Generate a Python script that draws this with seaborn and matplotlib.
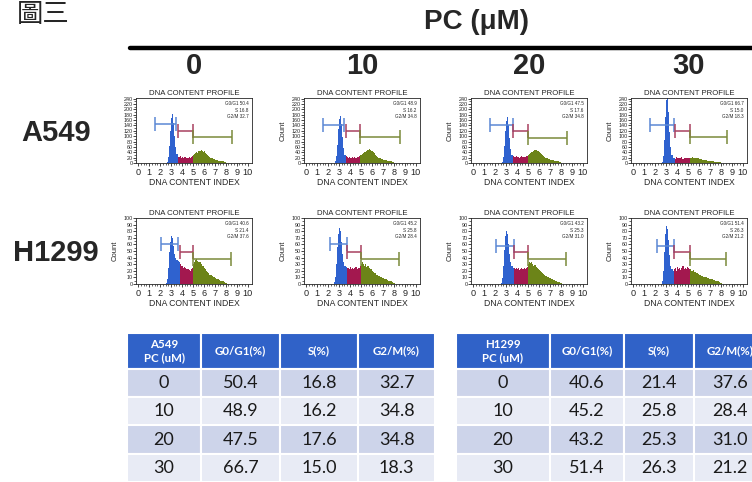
import numpy as np
import pandas as pd
import matplotlib
matplotlib.use("Agg")
import matplotlib.pyplot as plt
import seaborn as sns

sns.set_style("ticks")
plt.rcParams['font.family'] = ['Liberation Sans', 'DejaVu Sans']

# --- data ---
doses = ['0', '10', '20', '30']
cell_lines = ['A549', 'H1299']
phase_names = ['G0/G1', 'S', 'G2/M']
phase_colors = ['#2f62cf', '#a3184f', '#6c8418']
gate_colors = ['#5b88d4', '#a8405f', '#7b8a3a']

# histogram bins: 0.1 wide, 2.5 .. 8.3
bin_edges = [round(2.5 + 0.1 * i, 2) for i in range(59)]

# counts per bin
a549_0 = [0, 5, 22, 62, 120, 168, 182, 150, 100, 60, 34,
          24, 22, 25, 20, 23, 19, 22, 24, 20, 18, 22, 20, 24, 26,
          28, 32, 36, 40, 38, 44, 46, 48, 45, 42, 44, 38, 34, 30, 26, 22, 20, 17, 15, 14,
          12, 11, 10, 9, 9, 8, 7, 6, 4, 3, 1, 0, 0]
a549_10 = [0, 6, 25, 68, 125, 165, 176, 145, 95, 55, 30,
           26, 22, 20, 22, 18, 20, 21, 19, 22, 20, 24, 22, 26, 28,
           30, 34, 38, 42, 40, 46, 50, 52, 48, 45, 46, 40, 36, 30, 27, 24, 20, 18, 16, 14,
           13, 12, 11, 10, 9, 9, 8, 6, 5, 3, 1, 0, 0]
a549_20 = [0, 5, 22, 64, 118, 158, 170, 140, 92, 52, 28,
           25, 24, 22, 26, 21, 24, 20, 23, 25, 21, 24, 22, 26, 27,
           28, 33, 36, 40, 42, 45, 48, 50, 46, 44, 42, 38, 35, 31, 27, 23, 20, 18, 16, 14,
           12, 11, 10, 10, 9, 8, 7, 6, 4, 3, 1, 0, 0]
a549_30 = [0, 4, 25, 85, 170, 235, 250, 190, 115, 58, 28,
           18, 20, 16, 22, 18, 20, 17, 19, 21, 16, 18, 20, 17, 19,
           18, 20, 17, 19, 21, 18, 20, 19, 17, 18, 16, 15, 14, 13, 12, 11, 10, 9, 9, 8,
           7, 7, 6, 6, 5, 5, 4, 4, 3, 2, 1, 0, 0]
h1299_0 = [2, 8, 24, 48, 64, 72, 70, 58, 46, 40, 37, 35,
           33, 30, 28, 27, 25, 26, 24, 22, 23, 21, 20, 22, 24,
           30, 34, 36, 38, 35, 33, 34, 30, 28, 27, 25, 22, 20, 18, 16, 14, 13, 12, 11, 10,
           9, 8, 8, 7, 6, 5, 5, 4, 3, 2, 1, 0, 0]
h1299_10 = [3, 10, 30, 56, 76, 85, 80, 64, 46, 34, 28, 26,
            25, 24, 22, 26, 23, 25, 22, 24, 26, 23, 25, 24, 27,
            30, 33, 31, 28, 30, 26, 27, 24, 22, 23, 20, 18, 17, 16, 14, 13, 12, 11, 10, 9,
            9, 8, 7, 7, 6, 5, 4, 4, 3, 2, 1, 0, 0]
h1299_20 = [2, 9, 27, 52, 72, 80, 76, 60, 45, 33, 27, 25,
            24, 23, 25, 22, 24, 21, 23, 25, 22, 24, 23, 25, 26,
            30, 34, 32, 33, 30, 28, 29, 26, 24, 23, 21, 19, 18, 16, 15, 13, 12, 11, 10, 9,
            9, 8, 7, 6, 6, 5, 4, 3, 3, 2, 1, 0, 0]
h1299_30 = [0, 5, 20, 48, 76, 88, 84, 66, 44, 28, 22, 20,
            22, 24, 20, 26, 23, 25, 21, 24, 27, 22, 25, 23, 26, 24, 22,
            22, 20, 19, 21, 18, 17, 16, 15, 14, 13, 12, 12, 11, 10, 10, 9, 9, 8, 8, 7,
            7, 6, 6, 5, 4, 4, 3, 2, 1, 0, 0]

# marker gates: start, end, height for G0/G1, S, G2/M
a549_gate_lo = [[1.5, 3.6, 5.0], [1.5, 3.6, 4.9], [1.5, 3.6, 5.0], [1.5, 3.8, 5.2]]
a549_gate_hi = [[3.5, 5.0, 8.6], [3.5, 4.9, 8.6], [3.6, 5.0, 8.6], [3.7, 5.2, 8.6]]
a549_gate_y = [[144, 118, 96], [142, 118, 96], [140, 118, 94], [142, 118, 96]]
h1299_gate_lo = [[2.1, 3.8, 5.0], [2.2, 3.7, 5.0], [2.1, 3.7, 5.0], [2.2, 3.7, 5.2]]
h1299_gate_hi = [[3.6, 5.0, 8.5], [3.7, 5.0, 8.5], [3.7, 5.0, 8.5], [3.7, 5.2, 8.5]]
h1299_gate_y = [[60, 48, 38], [60, 48, 38], [58, 48, 38], [58, 48, 38]]

# cell cycle distribution tables
a549_g1 = ['50.4', '48.9', '47.5', '66.7']
a549_s = ['16.8', '16.2', '17.6', '15.0']
a549_g2 = ['32.7', '34.8', '34.8', '18.3']
h1299_g1 = ['40.6', '45.2', '43.2', '51.4']
h1299_s = ['21.4', '25.8', '25.3', '26.3']
h1299_g2 = ['37.6', '28.4', '31.0', '21.2']

hist_counts = {'A549': [a549_0, a549_10, a549_20, a549_30],
               'H1299': [h1299_0, h1299_10, h1299_20, h1299_30]}
gate_lo = {'A549': a549_gate_lo, 'H1299': h1299_gate_lo}
gate_hi = {'A549': a549_gate_hi, 'H1299': h1299_gate_hi}
gate_y = {'A549': a549_gate_y, 'H1299': h1299_gate_y}
pct = {'A549': (a549_g1, a549_s, a549_g2), 'H1299': (h1299_g1, h1299_s, h1299_g2)}
y_max = {'A549': 242, 'H1299': 100}
y_step = {'A549': 20, 'H1299': 10}

# --- layout (pixels) ---
W, H = 752, 482
fig = plt.figure(figsize=(W / 100, H / 100), dpi=100)


def px_axes(x0, y0, x1, y1):
    return fig.add_axes([x0 / W, 1 - y1 / H, (x1 - x0) / W, (y1 - y0) / H])


panel_left = [136, 304, 471, 631]
panel_w = 116
row_top = [98, 218]
row_bottom = [163, 284]

fig.text(17 / W, 1 - 15 / H, '圖三', fontsize=19, family=['Noto Sans CJK TC', 'DejaVu Sans'],
         ha='left', va='center')
fig.text(477 / W, 1 - 22 / H, 'PC (μM)', fontsize=20, fontweight='bold', ha='center', va='center')
fig.add_artist(plt.Line2D([130 / W, 1], [1 - 48 / H] * 2, color='black', lw=3.2))
for c, d in enumerate(doses):
    fig.text((panel_left[c] + 58) / W, 1 - 66 / H, d, fontsize=21, fontweight='bold',
             family=['Liberation Sans Narrow', 'Liberation Sans'], ha='center', va='center')
for r, line in enumerate(cell_lines):
    fig.text(56 / W, 1 - (row_top[r] + 35) / H, line, fontsize=21, fontweight='bold',
             ha='center', va='center')

centers = np.array(bin_edges[:-1]) + 0.05
for r, line in enumerate(cell_lines):
    for c, dose in enumerate(doses):
        ax = px_axes(panel_left[c], row_top[r], panel_left[c] + panel_w, row_bottom[r])
        lo, hi, gy = gate_lo[line][c], gate_hi[line][c], gate_y[line][c]
        phase = np.where(centers < lo[1], 'G0/G1', np.where(centers < lo[2], 'S', 'G2/M'))
        df = pd.DataFrame({'x': centers, 'w': hist_counts[line][c], 'phase': phase})
        sns.histplot(data=df, x='x', weights='w', bins=bin_edges, hue='phase',
                     hue_order=phase_names, palette=phase_colors, alpha=1, linewidth=0,
                     legend=False, ax=ax)
        for k in range(3):
            ax.errorbar((lo[k] + hi[k]) / 2, gy[k], xerr=(hi[k] - lo[k]) / 2, fmt='none',
                        ecolor=gate_colors[k], elinewidth=1.1, capsize=5, capthick=1.1)
        g1, s, g2 = pct[line]
        for k, txt in enumerate([f'G0/G1 {g1[c]}', f'S {s[c]}', f'G2/M {g2[c]}']):
            ax.text(0.97, 0.95 - k * 0.1, txt, transform=ax.transAxes, ha='right', va='top',
                    fontsize=3.3)
        ax.set_xlim(-0.2, 10.4)
        ax.set_ylim(0, y_max[line])
        ax.set_xticks(range(11))
        ax.set_xticks(np.arange(0, 10.01, 0.25), minor=True)
        ax.set_yticks(np.arange(0, y_max[line] + 1, y_step[line]))
        ax.set_yticks(np.arange(0, y_max[line] + 1, y_step[line] / 2), minor=True)
        ax.tick_params(axis='x', which='major', labelsize=6.6, length=2.5, width=0.6, pad=1)
        ax.tick_params(axis='y', which='major', labelsize=3.9, length=2, width=0.6, pad=0.5)
        ax.tick_params(which='minor', length=1.3, width=0.5)
        for sp in ax.spines.values():
            sp.set_linewidth(0.6)
        ax.set_title('DNA CONTENT PROFILE', fontsize=5.6, pad=2)
        ax.set_xlabel('DNA CONTENT INDEX', fontsize=6.2, labelpad=1)
        ax.set_ylabel('' if (r == 0 and c == 0) else 'Count', fontsize=5.5, labelpad=3)

# --- tables ---
header_blue = '#3062c8'
row_colors = ['#cdd4ea', '#e8ebf5']


def draw_table(x0, col_widths, first_header, g1, s, g2):
    total = sum(col_widths)
    ax = px_axes(x0, 333, x0 + total, 482)
    ax.axis('off')
    rows = [[d, a, b, e] for d, a, b, e in zip(doses, g1, s, g2)]
    tbl = ax.table(cellText=rows, colLabels=[first_header, 'G0/G1(%)', 'S(%)', 'G2/M(%)'],
                   colWidths=[w / total for w in col_widths], cellLoc='center',
                   bbox=[0, 0, 1, 1])
    tbl.auto_set_font_size(False)
    for (i, j), cell in tbl.get_celld().items():
        cell.set_edgecolor('white')
        cell.set_linewidth(1.5)
        cell.set_height(36 if i == 0 else 28.3)
        t = cell.get_text()
        t.set_family(['Lato', 'DejaVu Sans'])
        if i == 0:
            cell.set_facecolor(header_blue)
            t.set_color('white')
            t.set_fontweight('bold')
            t.set_fontsize(8.3)
        else:
            cell.set_facecolor(row_colors[(i - 1) % 2])
            t.set_color('#1a1a1a')
            t.set_fontsize(13)
    return tbl


draw_table(127, [74, 79, 78, 77], 'A549\nPC (uM)', a549_g1, a549_s, a549_g2)
draw_table(456, [94, 74, 70, 72], 'H1299\nPC (uM)', h1299_g1, h1299_s, h1299_g2)

fig.savefig('out.png', dpi=100)
